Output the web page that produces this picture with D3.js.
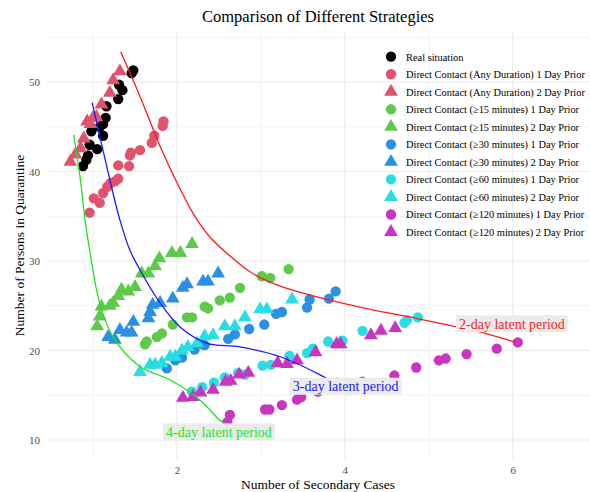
<!DOCTYPE html>
<html>
<head>
<meta charset="utf-8">
<script src="https://cdn.jsdelivr.net/npm/d3@7"></script>
<style>
  html, body { margin:0; padding:0; background:#fff; }
  svg { display:block; font-family:"Liberation Serif", "Times New Roman", serif; }
</style>
</head>
<body>
<div id="chart"></div>
<script>
// ---- data: [secondary cases, persons in quarantine] ----
const realSituation = [[0.88,40.6],[0.92,41.3],[0.94,41.8],[0.96,43.0],[0.98,44.5],[1.05,42.5],[1.08,45.0],[1.12,44.0],[1.12,45.3],[1.15,46.0],[1.16,47.3],[1.30,48.1],[1.35,49.1],[1.31,49.7],[1.46,51.0],[1.48,51.3]];
const anyDur1 = [[0.96,35.4],[1.01,37.0],[1.08,36.5],[1.12,37.6],[1.17,38.3],[1.21,38.7],[1.26,38.9],[1.30,39.2],[1.30,40.7],[1.43,40.6],[1.44,41.8],[1.45,42.1],[1.56,42.4],[1.70,43.2],[1.73,44.0],[1.83,45.1],[1.84,45.6]];
const anyDur2 = [[0.73,41.1],[0.79,41.9],[0.85,42.6],[0.89,43.7],[0.93,45.6],[0.97,45.3],[1.00,46.0],[1.04,46.1],[1.10,47.5],[1.20,48.8],[1.24,50.2],[1.32,51.2]];
const min15_1 = [[1.62,20.7],[1.64,21.0],[1.76,21.5],[1.82,21.9],[1.95,22.9],[2.12,23.7],[2.18,23.7],[2.33,24.9],[2.37,24.7],[2.51,25.6],[2.63,25.9],[2.75,27.0],[3.01,28.3],[3.11,28.1],[3.33,29.1]];
const min15_2 = [[1.05,22.7],[1.08,23.8],[1.10,24.9],[1.20,25.0],[1.24,25.3],[1.30,26.1],[1.34,26.8],[1.42,26.6],[1.50,27.1],[1.58,28.6],[1.66,28.6],[1.74,29.4],[1.79,30.3],[1.94,30.9],[2.04,30.9],[2.18,31.9]];
const min30_1 = [[1.88,18.0],[1.98,18.9],[2.06,19.2],[2.21,20.1],[2.31,20.7],[2.33,20.6],[2.61,21.3],[2.69,21.8],[2.86,22.4],[3.04,22.9],[3.18,24.1],[3.25,24.3],[3.55,24.8],[3.58,25.7],[3.81,25.8],[3.89,26.6]];
const min30_2 = [[1.18,21.5],[1.26,21.2],[1.32,22.3],[1.40,22.0],[1.46,22.0],[1.48,23.2],[1.66,23.6],[1.68,24.3],[1.71,25.1],[1.80,25.3],[1.95,25.8],[2.07,27.0],[2.12,27.4],[2.31,27.7],[2.37,27.7],[2.49,28.6]];
const min60_1 = [[2.18,15.4],[2.30,15.9],[2.44,16.4],[2.57,17.0],[2.73,17.5],[2.81,17.3],[3.02,18.3],[3.12,18.4],[3.34,19.4],[3.55,19.7],[3.62,20.2],[3.80,21.0],[3.97,21.1],[4.21,22.2],[4.71,23.1],[4.74,23.4],[4.87,23.7]];
const min60_2 = [[1.56,17.6],[1.68,18.4],[1.74,18.4],[1.82,18.6],[1.92,19.3],[1.98,19.3],[2.06,20.0],[2.13,20.4],[2.24,20.8],[2.33,21.6],[2.43,21.7],[2.57,22.7],[2.69,22.7],[2.81,23.7],[2.99,24.6],[3.07,24.6],[3.37,25.7]];
const min120_1 = [[2.60,12.0],[2.63,12.8],[3.05,13.4],[3.10,13.4],[3.25,13.9],[3.43,14.5],[3.48,14.8],[3.68,15.4],[3.91,16.4],[4.18,16.4],[4.21,16.5],[4.59,17.2],[4.85,18.1],[5.12,18.9],[5.20,19.1],[5.45,19.6],[5.81,20.2],[6.06,20.9]];
const min120_2 = [[2.07,14.7],[2.19,14.8],[2.28,15.3],[2.43,15.6],[2.58,16.5],[2.64,16.6],[2.74,17.3],[2.85,17.5],[3.20,18.6],[3.31,18.5],[3.43,18.9],[3.65,19.8],[3.90,20.7],[3.95,20.7],[4.31,21.7],[4.43,22.2],[4.60,22.5]];

// latent period curves
const latent2 = [[1.33,53.4],[1.56,48.4],[1.80,42.8],[2.04,38.0],[2.22,34.9],[2.40,32.6],[2.59,30.9],[2.87,28.8],[3.20,27.3],[3.70,25.9],[4.30,24.6],[4.85,23.6],[5.30,22.7],[5.64,22.0],[6.04,20.9]];
const latent3 = [[0.99,47.7],[1.20,39.1],[1.32,34.6],[1.44,31.2],[1.56,29.0],[1.80,25.3],[2.04,22.6],[2.36,20.8],[2.75,20.4],[3.23,19.3],[3.70,17.3],[3.90,16.2]];
const latent4 = [[0.77,44.1],[0.85,39.1],[0.905,34.6],[0.96,31.2],[1.08,25.3],[1.24,21.5],[1.56,18.2],[1.92,16.7],[2.27,14.5],[2.51,12.2],[2.56,11.9]];

const seriesNames = ['Real situation',
  'Direct Contact (Any Duration) 1 Day Prior', 'Direct Contact (Any Duration) 2 Day Prior',
  'Direct Contact (\u226515 minutes) 1 Day Prior', 'Direct Contact (\u226515 minutes) 2 Day Prior',
  'Direct Contact (\u226530 minutes) 1 Day Prior', 'Direct Contact (\u226530 minutes) 2 Day Prior',
  'Direct Contact (\u226560 minutes) 1 Day Prior', 'Direct Contact (\u226560 minutes) 2 Day Prior',
  'Direct Contact (\u2265120 minutes) 1 Day Prior', 'Direct Contact (\u2265120 minutes) 2 Day Prior'];
const seriesData = [realSituation, anyDur1, anyDur2, min15_1, min15_2, min30_1, min30_2, min60_1, min60_2, min120_1, min120_2];
const seriesColors = ['#000000', '#E0536D', '#E0536D', '#5FC94A', '#5FC94A', '#2B8FE2', '#2B8FE2', '#2ADCE3', '#2ADCE3', '#C934C1', '#C934C1'];
const seriesShapes = ['circle', 'circle', 'triangle', 'circle', 'triangle', 'circle', 'triangle', 'circle', 'triangle', 'circle', 'triangle'];

const curves = [
  { pts: latent2, color:'#FF1A1A', label:'2-day latent period', at:[5.99, 23.0] },
  { pts: latent3, color:'#1A1AFF', label:'3-day latent period', at:[4.01, 16.0] },
  { pts: latent4, color:'#1AE61A', label:'4-day latent period', at:[2.50, 10.9] }
];

const xMajor = [2, 4, 6], xMinor = [1, 3, 5];
const yMajor = [10, 20, 30, 40, 50], yMinor = [15, 25, 35, 45, 55];

// ---- layout ----
const W = 590, H = 492;
const panel = { left:46, right:590, top:32, bottom:459 };

const svg = d3.select('#chart').append('svg').attr('width', W).attr('height', H);

const x = d3.scaleLinear().domain([0.44, 6.92]).range([panel.left, panel.right]);
const y = d3.scaleLinear().domain([7.87, 55.6]).range([panel.bottom, panel.top]);

// grid (theme_minimal style)
const grid = svg.append('g');
grid.selectAll('.xmin').data(xMinor).join('line')
  .attr('x1', d => x(d)).attr('x2', d => x(d)).attr('y1', panel.top).attr('y2', panel.bottom)
  .attr('stroke', '#EBEBEB').attr('stroke-width', 0.6);
grid.selectAll('.ymin').data(yMinor).join('line')
  .attr('y1', d => y(d)).attr('y2', d => y(d)).attr('x1', panel.left).attr('x2', panel.right)
  .attr('stroke', '#EBEBEB').attr('stroke-width', 0.6);
grid.selectAll('.xmaj').data(xMajor).join('line')
  .attr('x1', d => x(d)).attr('x2', d => x(d)).attr('y1', panel.top).attr('y2', panel.bottom)
  .attr('stroke', '#EBEBEB').attr('stroke-width', 1.1);
grid.selectAll('.ymaj').data(yMajor).join('line')
  .attr('y1', d => y(d)).attr('y2', d => y(d)).attr('x1', panel.left).attr('x2', panel.right)
  .attr('stroke', '#EBEBEB').attr('stroke-width', 1.1);

// axes text
const xAxis = d3.axisBottom(x).tickValues(xMajor).tickFormat(d3.format('d')).tickSize(0).tickPadding(0);
const gx = svg.append('g').attr('transform', `translate(0,${panel.bottom})`).call(xAxis);
gx.attr('font-family', null);
gx.select('.domain').remove();
gx.selectAll('text').attr('dy', null).attr('y', 15).attr('font-size', 11).attr('fill', '#4D4D4D');

const yAxis = d3.axisLeft(y).tickValues(yMajor).tickFormat(d3.format('d')).tickSize(0).tickPadding(0);
const gy = svg.append('g').attr('transform', `translate(${panel.left - 6},0)`).call(yAxis);
gy.attr('font-family', null);
gy.select('.domain').remove();
gy.selectAll('text').attr('font-size', 11).attr('fill', '#4D4D4D');

svg.append('text').attr('x', (panel.left + panel.right) / 2).attr('y', 489)
  .attr('text-anchor', 'middle').attr('font-size', 13.5).attr('fill', '#000')
  .text('Number of Secondary Cases');
svg.append('text').attr('transform', `translate(24,${(panel.top + panel.bottom) / 2}) rotate(-90)`)
  .attr('text-anchor', 'middle').attr('font-size', 13.5).attr('fill', '#000')
  .text('Number of Persons in Quarantine');
svg.append('text').attr('x', (panel.left + panel.right) / 2).attr('y', 22)
  .attr('text-anchor', 'middle').attr('font-size', 16.5).attr('fill', '#000')
  .text('Comparison of Different Strategies');

// points
const circleSym = d3.symbol().type(d3.symbolCircle).size(84);
const triSym = d3.symbol().type(d3.symbolTriangle).size(82);

const pts = svg.append('g');
seriesData.forEach((data, i) => {
  pts.append('g').selectAll('path').data(data).join('path')
    .attr('transform', d => `translate(${x(d[0])},${y(d[1])})`)
    .attr('d', seriesShapes[i] === 'circle' ? circleSym() : triSym())
    .attr('fill', seriesColors[i]);
});

// latent period curves
const line = d3.line().x(d => x(d[0])).y(d => y(d[1])).curve(d3.curveCatmullRom.alpha(0.5));
curves.forEach(c => {
  svg.append('path').datum(c.pts).attr('d', line)
    .attr('fill', 'none').attr('stroke', c.color).attr('stroke-width', 1.3);
});

// curve labels with grey box
curves.forEach(c => {
  const g = svg.append('g').attr('transform', `translate(${x(c.at[0])},${y(c.at[1])})`);
  const rect = g.append('rect').attr('fill', '#EBEBEB');
  const t = g.append('text').attr('text-anchor', 'middle').attr('y', 5)
    .attr('font-size', 14).attr('fill', c.color).text(c.label);
  const bb = t.node().getBBox();
  rect.attr('x', bb.x - 3).attr('y', -8.5).attr('width', bb.width + 6).attr('height', 17);
});

// legend
const legend = svg.append('g').attr('transform', 'translate(391,56.7)');
seriesNames.forEach((name, i) => {
  const row = legend.append('g').attr('transform', `translate(0,${i * 17.53})`);
  row.append('path').attr('d', seriesShapes[i] === 'circle' ? circleSym() : triSym())
    .attr('fill', seriesColors[i]);
  row.append('text').attr('x', 15).attr('y', 4).attr('font-size', 10.4).attr('fill', '#000').text(name);
});
</script>
</body>
</html>
